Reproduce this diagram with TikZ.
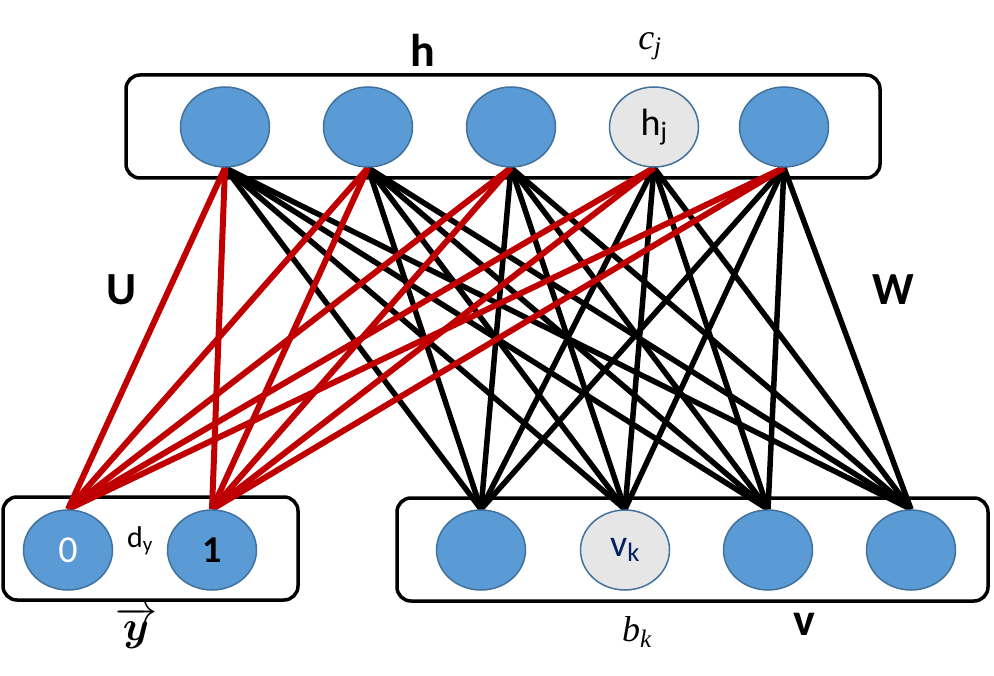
\documentclass[tikz,border=0pt]{standalone}
\usepackage{fix-cm}
\usepackage{amsmath}
\usepackage{bm}
\usepackage{fontspec}
\setmainfont{Carlito}
\newfontfamily\cambriaish{Liberation Serif}
\usetikzlibrary{shapes.geometric,backgrounds}

\definecolor{unitblue}{HTML}{5B9BD5}
\definecolor{unitedge}{HTML}{41719C}
\definecolor{unitgray}{HTML}{E7E6E6}
\definecolor{wred}{HTML}{C00000}
\definecolor{navy}{HTML}{002060}

\tikzset{
  unit/.style={ellipse,draw=unitedge,line width=1.5pt,fill=unitblue,minimum width=89pt,minimum height=80pt,inner sep=0pt,font=\fontsize{38}{40}\selectfont},
  given/.style={unit,fill=unitgray},
  layer/.style={draw,line width=3.5pt,rounded corners=14pt},
  wline/.style={line width=5.5pt},
  uline/.style={line width=6pt,draw=wred},
  biglabel/.style={font=\fontsize{46}{48}\selectfont\bfseries},
  biaslabel/.style={font=\fontsize{36}{38}\selectfont\cambriaish\itshape},
}

\begin{document}
\begin{tikzpicture}[x=1pt,y=-1pt]
\useasboundingbox (0,0) rectangle (994,676);

% hidden layer
\node[unit] (h1) at (225,127) {};
\node[unit] (h2) at (368,127) {};
\node[unit] (h3) at (511,127) {};
\node[given] (h4) at (654,127) {h\textsubscript{j}};
\node[unit] (h5) at (784,127) {};

% class units
\node[unit,text=white] (y0) at (68,550) {0};
\node[unit] (y1) at (212,550) {\textbf{1}};

% visible layer
\node[unit] (v1) at (481,550) {};
\node[given,text=navy] (v2) at (625,550) {v\textsubscript{k}};
\node[unit] (v3) at (768,550) {};
\node[unit] (v4) at (911,550) {};

% labels
\node[biglabel] (hlab) at (423,50) {h};
\node[biaslabel] (clab) at (650,46) {c\textsubscript{j}};
\node[biglabel] (ulab) at (122,290) {U};
\node[biglabel] (wlab) at (893,290) {W};
\node[font=\fontsize{30}{32}\selectfont] (dlab) at (140,541) {d\textsubscript{y}};
\node[font=\fontsize{42}{44}\selectfont] (ylab) at (136,628) {$\overrightarrow{\bm{y}}$};
\node[biaslabel] (blab) at (637,632) {b\textsubscript{k}};
\node[biglabel] (vlab) at (804,624) {v};

\begin{scope}[on background layer]
\draw[layer] (126,75) rectangle (880,178);
\draw[layer] (3,497) rectangle (298,600);
\draw[layer] (397,498) rectangle (988,601);

\foreach \i in {1,...,5}
  \foreach \k in {1,...,4}
    \draw[wline] (h\i.south) -- (v\k.north);

\foreach \i in {1,...,5}
  \foreach \k in {0,1}
    \draw[uline] (h\i.south) -- (y\k.north);
\end{scope}

\end{tikzpicture}
\end{document}
